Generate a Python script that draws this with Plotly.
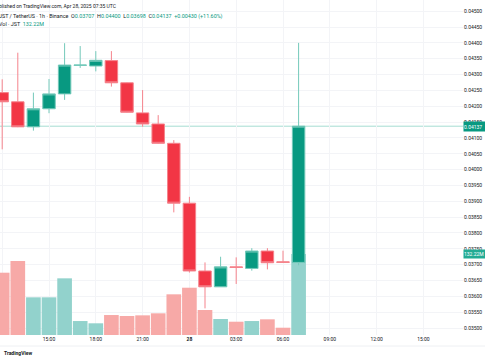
import plotly.graph_objects as go
import pandas as pd

# ---- data (JST/USDT 1h, Binance) ----
times = pd.date_range("2025-04-27 12:00", periods=20, freq="h")
opens = [0.04243, 0.04214, 0.04135, 0.04192, 0.04239, 0.04329, 0.04327, 0.04344, 0.04274, 0.04179,
         0.04144, 0.04083, 0.03894, 0.03680, 0.03630, 0.03693, 0.03688, 0.03743, 0.03709, 0.03707]
highs = [0.04285, 0.04369, 0.04243, 0.04286, 0.04399, 0.04390, 0.04374, 0.04374, 0.04275, 0.04251,
         0.04172, 0.04093, 0.03914, 0.03707, 0.03725, 0.03723, 0.03752, 0.03752, 0.03744, 0.04400]
lows = [0.04064, 0.04134, 0.04123, 0.04178, 0.04220, 0.04321, 0.04310, 0.04262, 0.04180, 0.04135,
        0.04082, 0.03865, 0.03675, 0.03562, 0.03630, 0.03639, 0.03681, 0.03685, 0.03706, 0.03698]
closes = [0.04214, 0.04135, 0.04192, 0.04239, 0.04330, 0.04330, 0.04345, 0.04274, 0.04181, 0.04144,
          0.04083, 0.03894, 0.03680, 0.03630, 0.03693, 0.03691, 0.03743, 0.03706, 0.03707, 0.04137]
volumes_m = [101.7, 120.8, 61.5, 61.5, 92.5, 22.8, 19.1, 32.6, 31.0, 32.1,
             35.4, 66.4, 77.2, 40.8, 26.1, 21.7, 22.8, 25.6, 11.9, 132.22]

price_ticks = [round(0.035 + 0.0005 * i, 5) for i in range(21)]
time_ticks = pd.date_range("2025-04-27 12:00", "2025-04-28 15:00", freq="3h")
time_labels = ["12:00", "15:00", "18:00", "21:00", "<b>28</b>", "03:00", "06:00", "09:00", "12:00", "15:00"]

UP = "#089981"
DOWN = "#F23645"
UP_VOL = "#92d2cc"
DOWN_VOL = "#f7a9a7"
TEXT = "#131722"
FONT = "Roboto"

vol_colors = [UP_VOL if c >= o else DOWN_VOL for o, c in zip(opens, closes)]

fig = go.Figure()
fig.add_trace(go.Bar(
    x=times, y=volumes_m, marker=dict(color=vol_colors, line=dict(width=0)),
    yaxis="y", hoverinfo="skip"))
fig.add_trace(go.Candlestick(
    x=times, open=opens, high=highs, low=lows, close=closes, yaxis="y2",
    increasing=dict(line=dict(color="#74c9ba", width=1), fillcolor=UP),
    decreasing=dict(line=dict(color="#f5838c", width=1), fillcolor=DOWN),
    whiskerwidth=0))

last_o, last_h, last_l, last_c = opens[-1], highs[-1], lows[-1], closes[-1]
chg = last_c - last_o
pct = chg / last_o * 100


def teal(s):
    return f"<span style='color:{UP}'>{s}</span>"


line1 = "Published on TradingView.com, Apr 28, 2025 07:35 UTC"
line2 = ("JST / TetherUS · 1h · Binance  O" + teal(f"{last_o:.5f}") + "  H" + teal(f"{last_h:.5f}")
         + "  L" + teal(f"{last_l:.5f}") + "  C" + teal(f"{last_c:.5f}")
         + "  " + teal(f"{chg:+.5f} ({pct:+.2f}%)"))
line3 = "Vol · JST  " + teal(f"{volumes_m[-1]:.2f}M")

PW = 463.0  # plot width px
PH = 335.0  # plot height px


def px_x(p):
    return p / PW


def px_y(p):
    return (PH - p) / PH


annotations = [
    dict(text=line1, x=px_x(-9.5), y=px_y(6), xref="paper", yref="paper", xanchor="left", yanchor="middle",
         showarrow=False, font=dict(size=5, color=TEXT, family=FONT)),
    dict(text=line2, x=px_x(-2.8), y=px_y(17), xref="paper", yref="paper", xanchor="left", yanchor="middle",
         showarrow=False, font=dict(size=5.4, color=TEXT, family=FONT)),
    dict(text=line3, x=px_x(-3.2), y=px_y(24), xref="paper", yref="paper", xanchor="left", yanchor="middle",
         showarrow=False, font=dict(size=5.4, color=TEXT, family=FONT)),
    dict(text=f"{last_c:.5f}", x=1, y=last_c, xref="paper", yref="y2", xanchor="left", yanchor="middle",
         showarrow=False, bgcolor=UP, font=dict(size=5, color="white", family=FONT),
         width=22, height=9, align="left", borderpad=0),
    dict(text=f"{volumes_m[-1]:.2f}M", x=1, y=volumes_m[-1], xref="paper", yref="y", xanchor="left",
         yanchor="middle", showarrow=False, bgcolor="#22ab94", font=dict(size=5, color="white", family=FONT),
         width=22, height=8, align="left", borderpad=0),
    dict(text="<b>TradingView</b>", x=px_x(2), y=px_y(353), xref="paper", yref="paper", xanchor="left",
         yanchor="middle", showarrow=False, font=dict(size=5, color=TEXT, family=FONT)),
]

shapes = [
    dict(type="line", xref="paper", yref="y2", x0=0, x1=1, y0=last_c, y1=last_c,
         line=dict(color="#a6ddd3", width=1), layer="below"),
    dict(type="line", xref="paper", yref="paper", x0=0, x1=485 / PW, y0=px_y(346), y1=px_y(346),
         line=dict(color="#eef0f3", width=1)),
]

# axis ranges derived from pixel layout of the reference
px_per_hour = 15.6
x0 = pd.Timestamp("2025-04-27 12:00") - pd.Timedelta(hours=2.2 / px_per_hour)
x1 = pd.Timestamp("2025-04-27 12:00") + pd.Timedelta(hours=(PW - 2.2) / px_per_hour)
px_per_step = 15.84
y_top = 0.035 + 328 / px_per_step * 0.0005
y_bot = 0.035 - (PH - 328) / px_per_step * 0.0005
vol_top = volumes_m[-1] * PH / 81.0

fig.update_layout(
    width=485, height=360,
    margin=dict(l=0, r=22, t=0, b=25, autoexpand=False),
    paper_bgcolor="white", plot_bgcolor="white",
    showlegend=False,
    bargap=0.06,
    boxgap=0.2, boxgroupgap=0,
    font=dict(family=FONT, size=5, color=TEXT),
    xaxis=dict(type="date", range=[x0, x1], tickvals=time_ticks, ticktext=time_labels, automargin=False,
               showgrid=True, gridcolor="#f3f4f7", gridwidth=1, zeroline=False, showline=False,
               ticks="", tickfont=dict(size=5, color=TEXT, family=FONT), rangeslider=dict(visible=False)),
    yaxis=dict(range=[0, vol_top], visible=False, showgrid=False, fixedrange=True, automargin=False),
    yaxis2=dict(overlaying="y", side="right", range=[y_bot, y_top], tickvals=price_ticks, automargin=False,
                ticktext=[f"{v:.5f}" for v in price_ticks], showgrid=True, gridcolor="#f3f4f7",
                zeroline=False, showline=False, ticks="", tickfont=dict(size=5, color=TEXT, family=FONT)),
    annotations=annotations,
    shapes=shapes,
)

fig.write_html("out.html", config={"displayModeBar": False},
               post_script="document.body.style.margin='0';document.body.style.overflow='hidden';")
